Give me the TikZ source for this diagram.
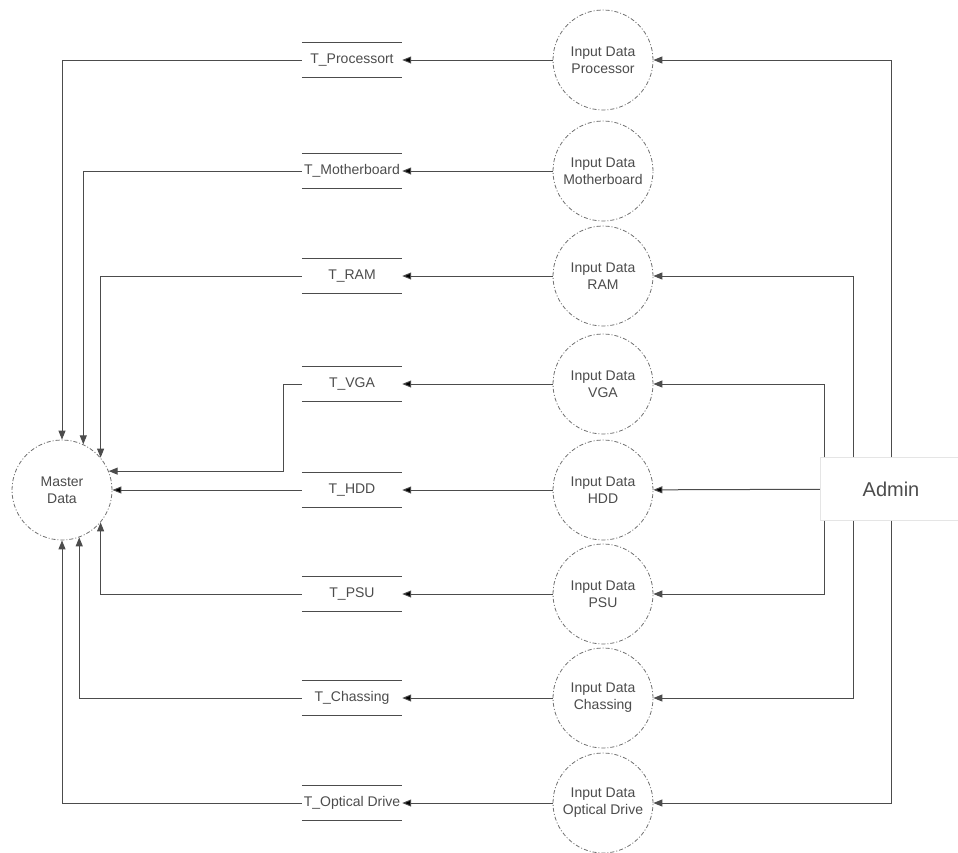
\documentclass[tikz,border=0pt]{standalone}
\usepackage{fontspec}
\setmainfont{Liberation Sans}
\usetikzlibrary{arrows.meta,calc}
\definecolor{dg}{gray}{0.3}
\tikzset{
    process/.style = {circle,
                    fill=white,
                    draw=dg!80,
                    dash pattern=on 4pt off 2pt on 1pt off 2pt,
                    text=dg,
                    thick,
                    align=center,
                    inner sep=0pt,
                    minimum size=100pt},
    store/.style =  {rectangle,
                    text=dg,
                    inner sep=0pt,
                    minimum width=100pt,
                    minimum height=35pt},
    entity/.style = {rectangle,
                    fill=white,
                    draw=black!10,
                    text=dg,
                    minimum width=142pt,
                    minimum height=63pt,
                    font=\fontsize{20}{24}\selectfont},
    -,
    storeline/.style = {draw=dg, line width=1pt},
    flow/.style = {draw=dg, line width=1pt, ->},
    >={Triangle[length=9pt,width=7pt]}}

\begin{document}
\begin{tikzpicture}[x=1pt,y=-1pt,font=\fontsize{14}{17}\selectfont]
    \useasboundingbox (0,0) rectangle (958,852);
    % processes
    \node[process]  (pproc)  at (603,60)   {Input Data\\Processor};
    \node[process]  (pmb)    at (603,171)  {Input Data\\Motherboard};
    \node[process]  (pram)   at (603,276)  {Input Data\\RAM};
    \node[process]  (pvga)   at (603,384)  {Input Data\\VGA};
    \node[process]  (phdd)   at (603,490)  {Input Data\\HDD};
    \node[process]  (ppsu)   at (603,594)  {Input Data\\PSU};
    \node[process]  (pchas)  at (603,698)  {Input Data\\Chassing};
    \node[process]  (popt)   at (603,803)  {Input Data\\Optical Drive};
    % data stores
    \node[store]    (sproc)  at (352,60)   {T\_Processort};
    \node[store]    (smb)    at (352,171)  {T\_Motherboard};
    \node[store]    (sram)   at (352,276)  {T\_RAM};
    \node[store]    (svga)   at (352,384)  {T\_VGA};
    \node[store]    (shdd)   at (352,490)  {T\_HDD};
    \node[store]    (spsu)   at (352,594)  {T\_PSU};
    \node[store]    (schas)  at (352,698)  {T\_Chassing};
    \node[store]    (sopt)   at (352,803)  {T\_Optical Drive};
    \foreach \s in {sproc,smb,sram,svga,shdd,spsu,schas,sopt}
        \path[storeline] (\s.north west) -- (\s.north east)
                         (\s.south west) -- (\s.south east);
    \node[process]  (master) at (62,490)   {Master\\Data};
    \node[entity]   (admin)  at (891,489)  {Admin};

    % admin to processes
    \draw[flow] (admin.north) |- (pproc);
    \draw[flow] ($(admin.north west)+(34,0)$) |- (pram);
    \draw[flow] ($(admin.north west)+(5,0)$) |- (pvga);
    \path[flow] (admin) edge (phdd);
    \draw[flow] ($(admin.south west)+(5,0)$) |- (ppsu);
    \draw[flow] ($(admin.south west)+(34,0)$) |- (pchas);
    \draw[flow] (admin.south) |- (popt);

    % processes to stores
    \path[flow] (pproc) edge (sproc)
                (pmb)   edge (smb)
                (pram)  edge (sram)
                (pvga)  edge (svga)
                (phdd)  edge (shdd)
                (ppsu)  edge (spsu)
                (pchas) edge (schas)
                (popt)  edge (sopt);

    % stores to master data
    \draw[flow] (sproc.west) -| (master);
    \draw[flow] (smb.west) -| (master.65);
    \draw[flow] (sram.west) -| (master.40);
    \draw[flow] (svga.west) -- ++(-18,0) |- (master.22);
    \path[flow] (shdd) edge (master);
    \draw[flow] (spsu.west) -| (master.-40);
    \draw[flow] (schas.west) -| (master.-70);
    \draw[flow] (sopt.west) -| (master);
\end{tikzpicture}
\end{document}
